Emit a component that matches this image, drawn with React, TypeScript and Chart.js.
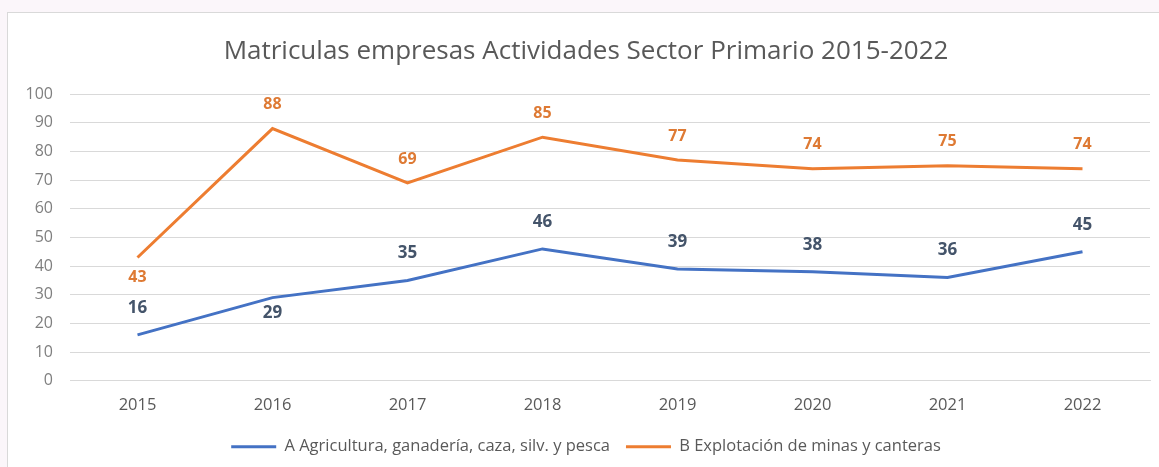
import React, { useEffect, useRef } from "react";
import { Chart, registerables } from "chart.js";

Chart.register(...registerables);

const years = ["2015", "2016", "2017", "2018", "2019", "2020", "2021", "2022"];
const agricultura = [16, 29, 35, 46, 39, 38, 36, 45];
const minas = [43, 88, 69, 85, 77, 74, 75, 74];
const seriesNames = [
  "A Agricultura, ganadería, caza, silv. y pesca",
  "B Explotación de minas y canteras",
];
const titleText = "Matriculas empresas Actividades Sector Primario 2015-2022";
const agriLabelsBelow = [1];
const minasLabelsBelow = [0];

const FONT = "'Open Sans', Lato, sans-serif";

const dataLabelPlugin = {
  id: "dataLabels",
  afterDatasetsDraw(chart: any) {
    const ctx = chart.ctx;
    chart.data.datasets.forEach((ds: any, di: number) => {
      const meta = chart.getDatasetMeta(di);
      const below: number[] = ds.labelsBelow || [];
      ctx.save();
      ctx.font = `bold ${ds.labelSize}px ${FONT}`;
      ctx.fillStyle = ds.labelColor;
      ctx.textAlign = "center";
      ctx.textBaseline = "middle";
      meta.data.forEach((pt: any, i: number) => {
        const isBelow = below.includes(i);
        const y = isBelow ? pt.y + ds.belowOffset : pt.y - ds.aboveOffset;
        ctx.fillText(String(ds.data[i]), pt.x, y);
      });
      ctx.restore();
    });
  },
};

export default function App() {
  const ref = useRef<HTMLCanvasElement>(null);
  useEffect(() => {
    if (!ref.current) return;
    const chart = new Chart(ref.current, {
      type: "line",
      data: {
        labels: years,
        datasets: [
          {
            label: seriesNames[0],
            data: agricultura,
            borderColor: "#4472c4",
            backgroundColor: "#4472c4",
            borderWidth: 3,
            pointRadius: 0,
            tension: 0,
            labelsBelow: agriLabelsBelow,
            labelColor: "#44546a",
            labelSize: 17,
            aboveOffset: 27,
            belowOffset: 16,
          } as any,
          {
            label: seriesNames[1],
            data: minas,
            borderColor: "#ed7d31",
            backgroundColor: "#ed7d31",
            borderWidth: 3,
            pointRadius: 0,
            tension: 0,
            labelsBelow: minasLabelsBelow,
            labelColor: "#de7a34",
            labelSize: 16,
            aboveOffset: 24,
            belowOffset: 20,
          } as any,
        ],
      },
      options: {
        animation: false,
        responsive: false,
        maintainAspectRatio: false,
        layout: { padding: { left: 14, right: 9, top: 0, bottom: 2 } },
        plugins: {
          title: {
            display: true,
            text: titleText,
            color: "#595959",
            font: { family: FONT, size: 26, weight: "normal" },
            padding: { top: 23, bottom: 27 },
          },
          legend: {
            position: "bottom",
            labels: {
              color: "#595959",
              font: { family: FONT, size: 16.5 },
              boxWidth: 45,
              boxHeight: 3,
              padding: 16,
              generateLabels(chart: any) {
                return chart.data.datasets.map((ds: any, i: number) => ({
                  text: ds.label,
                  fillStyle: ds.borderColor,
                  strokeStyle: ds.borderColor,
                  lineWidth: 0,
                  fontColor: "#595959",
                  datasetIndex: i,
                  hidden: false,
                }));
              },
            },
          },
          tooltip: { enabled: false },
        },
        scales: {
          x: {
            offset: true,
            grid: { display: false },
            border: { display: true, color: "#d9d9d9" },
            ticks: { color: "#595959", font: { family: FONT, size: 16.5 }, padding: 7 },
          },
          y: {
            min: 0,
            max: 100,
            afterFit(scale: any) {
              scale.width = 48;
            },
            ticks: { stepSize: 10, color: "#7f7f7f", font: { family: FONT, size: 16 }, padding: 17 },
            grid: { color: "#d9d9d9", drawTicks: false },
            border: { display: false },
          },
        },
      },
      plugins: [dataLabelPlugin],
    });
    return () => chart.destroy();
  }, []);

  return (
    <div
      style={{
        position: "absolute",
        left: 0,
        top: 0,
        width: 1159,
        height: 467,
        background: "#fbf6fa",
      }}
    >
      <div
        style={{
          position: "absolute",
          left: 7,
          top: 12,
          width: 1152,
          height: 455,
          background: "#ffffff",
          borderLeft: "1px solid #d9d9d9",
          borderTop: "1px solid #d9d9d9",
        }}
      >
        <canvas ref={ref} width={1151} height={454} style={{ display: "block" }} />
      </div>
    </div>
  );
}
